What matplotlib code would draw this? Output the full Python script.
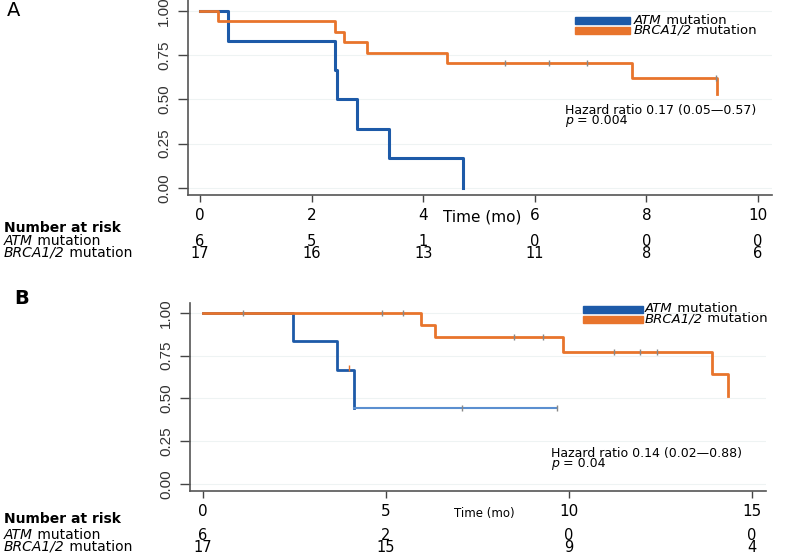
import numpy as np
import matplotlib.pyplot as plt
import matplotlib.transforms as mtransforms

plt.rcParams["font.family"] = ["DejaVu Sans"]

BLUE = "#1d5aa8"
ORANGE = "#e8742c"

# panel A data (time in months, survival)
a_atm_t = [0, 0.5, 2.42, 2.46, 2.82, 3.38, 4.72]
a_atm_s = [1.0, 0.833, 0.667, 0.5, 0.333, 0.167, 0.0]
a_brca_t = [0, 0.33, 2.42, 2.58, 2.99, 4.42, 7.74, 9.27, 9.27]
a_brca_s = [1.0, 0.941, 0.882, 0.824, 0.765, 0.706, 0.62, 0.53, 0.53]
a_brca_cens_t = [5.47, 6.25, 6.93, 9.25]
a_brca_cens_s = [0.706, 0.706, 0.706, 0.62]
a_ticks = [0, 2, 4, 6, 8, 10]
a_risk_atm = [6, 5, 1, 0, 0, 0]
a_risk_brca = [17, 16, 13, 11, 8, 6]

# panel B data
b_atm_t = [0, 2.46, 3.66, 4.13, 9.67]
b_atm_s = [1.0, 0.833, 0.667, 0.444, 0.444]
b_atm_cens_t = [7.07, 9.67]
b_atm_cens_s = [0.444, 0.444]
b_brca_t = [0, 5.95, 6.34, 9.84, 13.9, 14.34, 14.34]
b_brca_s = [1.0, 0.929, 0.857, 0.771, 0.643, 0.514, 0.514]
b_brca_cens_t = [1.1, 4.9, 5.47, 8.5, 9.29, 11.23, 11.94, 12.4]
b_brca_cens_s = [1.0, 1.0, 1.0, 0.857, 0.857, 0.771, 0.771, 0.771]
b_odd_cens_t = [3.99]
b_odd_cens_s = [0.68]
b_ticks = [0, 5, 10, 15]
b_risk_atm = [6, 2, 0, 0]
b_risk_brca = [17, 15, 9, 4]

yticks = [0, 0.25, 0.5, 0.75, 1.0]

W, H = 800, 553
fig = plt.figure(figsize=(8, 5.53), dpi=100)


def px_axes(l, t, r, b):
    return fig.add_axes([l / W, 1 - b / H, (r - l) / W, (b - t) / H])


def style(ax, xlim, ylim, xticks):
    ax.set_xlim(*xlim)
    ax.set_ylim(*ylim)
    for s in ["top", "right"]:
        ax.spines[s].set_visible(False)
    for s in ["left", "bottom"]:
        ax.spines[s].set_color("#555555")
        ax.spines[s].set_linewidth(1.2)
    ax.set_yticks(yticks)
    ax.set_yticklabels(["%.2f" % v for v in yticks], rotation=90, va="center",
                       fontsize=9, family="Liberation Sans")
    ax.set_xticks(xticks)
    ax.tick_params(colors="#444444", width=1, labelsize=11)
    ax.tick_params(axis="y", length=7, pad=5, labelcolor="#333333")
    ax.tick_params(axis="x", length=5, pad=4, labelcolor="black")
    ax.grid(axis="y", color="#eef3f3", lw=0.8)
    ax.set_axisbelow(True)


def two_part(ax, x, y, italic, rest, size, transform, **kw):
    t = ax.text(x, y, italic, fontsize=size, style="italic", transform=transform,
                va="center", **kw)
    ax.annotate(rest, xy=(1, 0.5), xycoords=t, va="center", ha="left",
                fontsize=size, annotation_clip=False)
    return t


def risk_table(ax, ticks, atm, brca, y0, y1, y2):
    tr = mtransforms.blended_transform_factory(ax.transData, fig.transFigure)
    fig.text(4 / W, 1 - y0 / H, "Number at risk", fontsize=10, weight="bold", va="center")
    two_part(ax, 4 / W, 1 - y1 / H, "ATM", " mutation", 10, fig.transFigure)
    two_part(ax, 4 / W, 1 - y2 / H, "BRCA1/2", " mutation", 10, fig.transFigure)
    for x, a, b in zip(ticks, atm, brca):
        ax.text(x, 1 - y1 / H, str(a), transform=tr, ha="center", va="center", fontsize=10.5)
        ax.text(x, 1 - y2 / H, str(b), transform=tr, ha="center", va="center", fontsize=10.5)


def legend(ax, l, r, y1, y2, tx):
    for y, c, lab in [(y1, BLUE, "ATM"), (y2, ORANGE, "BRCA1/2")]:
        fig.patches.append(plt.Rectangle((l / W, 1 - (y + 3.5) / H), (r - l) / W, 7 / H,
                                         transform=fig.transFigure, color=c))
        two_part(ax, tx / W, 1 - y / H, lab, " mutation", 9.5, fig.transFigure)


# ---- Panel A ----
axA = px_axes(188, 0, 772, 195)
style(axA, (-0.215, 10.25), (-0.04, 1.062), a_ticks)
axA.step(a_atm_t, a_atm_s, where="post", color=BLUE, lw=2.2)
axA.step(a_brca_t, a_brca_s, where="post", color=ORANGE, lw=2)
axA.plot(a_brca_cens_t, a_brca_cens_s, "|", color="#888888", ms=5)
axA.text(6.54, 0.44, "Hazard ratio 0.17 (0.05\u20140.57)", fontsize=9, va="center")
two_part(axA, 6.54, 0.379, "p", " = 0.004", 9, axA.transData)
fig.text(482 / W, 1 - 217 / H, "Time (mo)", fontsize=11, ha="center", va="center")
risk_table(axA, a_ticks, a_risk_atm, a_risk_brca, 228, 241, 253)
legend(axA, 575, 630, 20, 30, 634)
fig.text(14 / W, 1 - 11 / H, "A", fontsize=14, ha="center", va="center")

# ---- Panel B ----
axB = px_axes(190, 303, 766, 491)
style(axB, (-0.355, 15.38), (-0.041, 1.058), b_ticks)
axB.step(b_atm_t[:4], b_atm_s[:4], where="post", color=BLUE, lw=2)
axB.plot(b_atm_t[3:], b_atm_s[3:], color="#5b8fd0", lw=1.5)
axB.step(b_brca_t, b_brca_s, where="post", color=ORANGE, lw=2)
axB.plot(b_atm_cens_t, b_atm_cens_s, "|", color="#888888", ms=5)
axB.plot(b_brca_cens_t, b_brca_cens_s, "|", color="#888888", ms=5)
axB.plot(b_odd_cens_t, b_odd_cens_s, "|", color=ORANGE, ms=5)
axB.text(9.51, 0.181, "Hazard ratio 0.14 (0.02\u20140.88)", fontsize=9, va="center")
two_part(axB, 9.51, 0.12, "p", " = 0.04", 9, axB.transData)
fig.text(484 / W, 1 - 513 / H, "Time (mo)", fontsize=8.5, ha="center", va="center")
risk_table(axB, b_ticks, b_risk_atm, b_risk_brca, 519, 535, 547)
legend(axB, 583, 643, 309, 319, 645)
fig.text(22 / W, 1 - 298 / H, "B", fontsize=14, ha="center", va="center", weight="bold")

fig.savefig("out.png", dpi=100)
